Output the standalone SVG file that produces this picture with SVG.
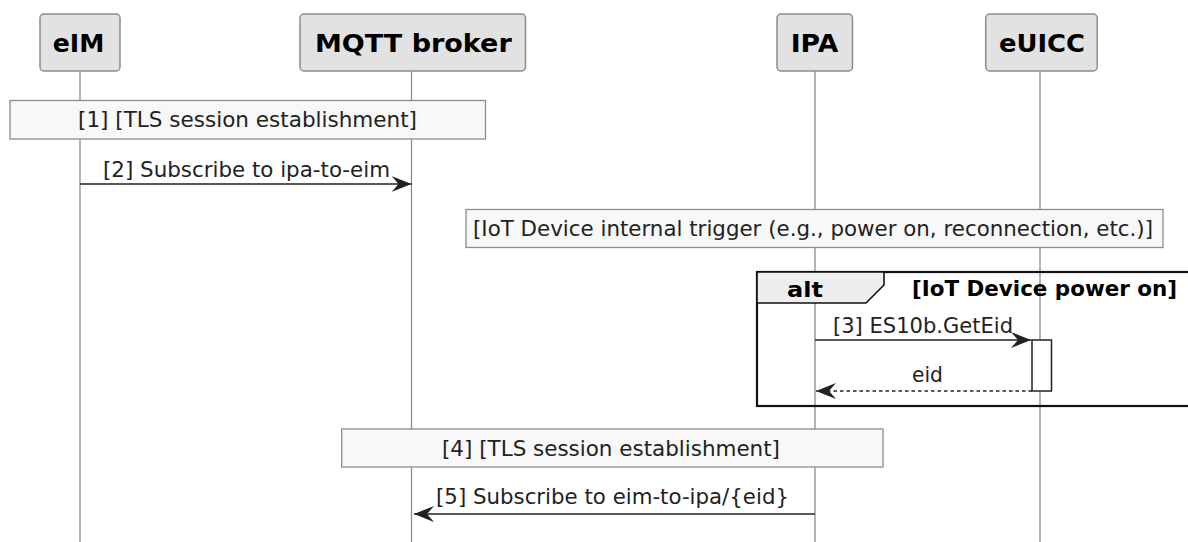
<svg xmlns="http://www.w3.org/2000/svg" width="1188" height="542" viewBox="0 0 1188 542">
<defs>
<style>
.life{stroke:#8c8c8c;stroke-width:1.3;fill:none}
.part{fill:#e2e2e2;stroke:#8c8c8c;stroke-width:1.5}
.pname{font-family:"DejaVu Sans",sans-serif;font-weight:bold;font-size:25px;fill:#000}
.note{fill:#f8f8f8;stroke:#8c8c8c;stroke-width:1.3}
.txt{font-family:"DejaVu Sans",sans-serif;font-size:21px;fill:#222}
.btxt{font-family:"DejaVu Sans",sans-serif;font-weight:bold;font-size:21px;fill:#000}
.msg{stroke:#222;stroke-width:1.6;fill:none}
.ret{stroke:#222;stroke-width:1.6;fill:none;stroke-dasharray:3.5,3}
</style>
<marker id="ah" viewBox="0 0 20 16" refX="20" refY="8" markerWidth="20" markerHeight="16" markerUnits="userSpaceOnUse" orient="auto">
<polygon points="0,0 20,8 0,16 7,8" fill="#222"/>
</marker>
</defs>
<rect width="1188" height="542" fill="#fff"/>
<g id="lifelines">
<line class="life" x1="80" y1="71" x2="80" y2="542"/>
<line class="life" x1="411.5" y1="71" x2="411.5" y2="542"/>
<line class="life" x1="815" y1="71" x2="815" y2="542"/>
<line class="life" x1="1040" y1="71" x2="1040" y2="542"/>
</g>
<g id="p-eim"><rect class="part" x="40" y="14" width="80" height="57" rx="4"/><text class="pname" x="52.7" y="51.5" textLength="51.6" lengthAdjust="spacingAndGlyphs">eIM</text></g>
<g id="p-mqtt"><rect class="part" x="300" y="14" width="225.5" height="57" rx="4"/><text class="pname" x="315" y="51.5" textLength="196.7" lengthAdjust="spacingAndGlyphs">MQTT broker</text></g>
<g id="p-ipa"><rect class="part" x="777" y="14" width="75.5" height="57" rx="4"/><text class="pname" x="790.7" y="51.5" textLength="47.6" lengthAdjust="spacingAndGlyphs">IPA</text></g>
<g id="p-euicc"><rect class="part" x="985.7" y="14" width="111.5" height="57" rx="4"/><text class="pname" x="999" y="51.5" textLength="86" lengthAdjust="spacingAndGlyphs">eUICC</text></g>
<g id="n1"><rect class="note" x="10" y="100.5" width="475.5" height="38.5"/><text class="txt" x="78" y="127" textLength="339" lengthAdjust="spacingAndGlyphs">[1] [TLS session establishment]</text></g>
<g id="n-trigger"><rect class="note" x="466" y="209.5" width="697" height="38"/><text class="txt" x="473" y="236" textLength="680" lengthAdjust="spacingAndGlyphs">[IoT Device internal trigger (e.g., power on, reconnection, etc.)]</text></g>
<g id="alt">
<rect x="757" y="272" width="440" height="134" fill="none" stroke="#111" stroke-width="2.2"/>
<path d="M757,272 L884,272 L884,285 L866,303 L757,303 Z" fill="#eeeeee" stroke="#111" stroke-width="1.6"/>
<text class="btxt" x="787" y="296.5" font-size="22" textLength="36" lengthAdjust="spacingAndGlyphs">alt</text>
<text class="btxt" x="912" y="296" textLength="265" lengthAdjust="spacingAndGlyphs">[IoT Device power on]</text>
</g>
<g id="act-euicc"><rect x="1032" y="340" width="19.5" height="51" fill="#fff" stroke="#222" stroke-width="1.5"/></g>
<g id="n4"><rect class="note" x="341.7" y="429" width="541.3" height="38"/><text class="txt" x="442" y="455.5" textLength="338" lengthAdjust="spacingAndGlyphs">[4] [TLS session establishment]</text></g>
<g id="connectors">
<line class="msg" x1="80" y1="184" x2="411.5" y2="184" marker-end="url(#ah)"/>
<text class="txt" x="103" y="177" textLength="287" lengthAdjust="spacingAndGlyphs">[2] Subscribe to ipa-to-eim</text>
<line class="msg" x1="815" y1="340" x2="1031" y2="340" marker-end="url(#ah)"/>
<text class="txt" x="833" y="333" textLength="180" lengthAdjust="spacingAndGlyphs">[3] ES10b.GetEid</text>
<line class="ret" x1="1032" y1="391" x2="816" y2="391" marker-end="url(#ah)"/>
<text class="txt" x="912" y="382" textLength="31" lengthAdjust="spacingAndGlyphs">eid</text>
<line class="msg" x1="815" y1="514" x2="414" y2="514" marker-end="url(#ah)"/>
<text class="txt" x="436" y="504" textLength="353" lengthAdjust="spacingAndGlyphs">[5] Subscribe to eim-to-ipa/{eid}</text>
</g>
</svg>
